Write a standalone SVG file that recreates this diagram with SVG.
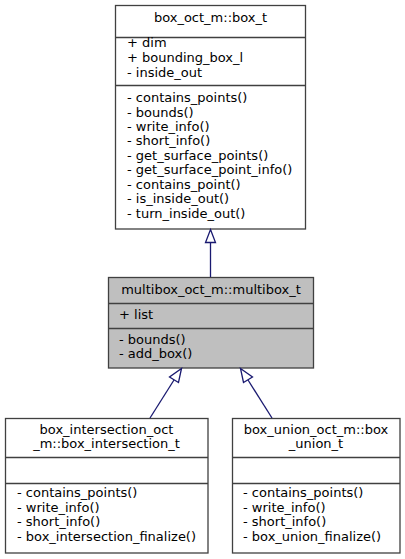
<svg xmlns="http://www.w3.org/2000/svg" width="405" height="559" viewBox="0 0 405 559">
<style>
text{font-family:"DejaVu Sans",sans-serif;font-size:13px;fill:#000}
.c{text-anchor:middle}
.box{fill:#fff;stroke:#404040;stroke-width:1.3}
.gray{fill:#bfbfbf;stroke:#404040;stroke-width:1.3}
.div{stroke:#404040;stroke-width:1.3}
.edge{stroke:#191970;stroke-width:1.3;fill:none}
.head{stroke:#191970;stroke-width:1.3;fill:#fff}
</style>
<rect width="405" height="559" fill="#fff"/>
<g id="box_t">
<rect class="box" x="115.5" y="5.5" width="190" height="223.5"/>
<line class="div" x1="115.5" y1="37.5" x2="305.5" y2="37.5"/>
<line class="div" x1="115.5" y1="85.5" x2="305.5" y2="85.5"/>
<text class="c" x="210.5" y="22">box_oct_m::box_t</text>
<text x="127" y="47">+ dim</text>
<text x="127" y="62">+ bounding_box_l</text>
<text x="127" y="77">- inside_out</text>
<text x="127" y="102">- contains_points()</text>
<text x="127" y="116.5">- bounds()</text>
<text x="127" y="131">- write_info()</text>
<text x="127" y="145">- short_info()</text>
<text x="127" y="159.5">- get_surface_points()</text>
<text x="127" y="174">- get_surface_point_info()</text>
<text x="127" y="188.5">- contains_point()</text>
<text x="127" y="203">- is_inside_out()</text>
<text x="127" y="217.5">- turn_inside_out()</text>
</g>
<g id="multibox_t">
<rect class="gray" x="108.5" y="277.5" width="205" height="90.5"/>
<line class="div" x1="108.5" y1="303.5" x2="313.5" y2="303.5"/>
<line class="div" x1="108.5" y1="328.5" x2="313.5" y2="328.5"/>
<text class="c" x="211" y="294">multibox_oct_m::multibox_t</text>
<text x="119" y="319">+ list</text>
<text x="119" y="344">- bounds()</text>
<text x="119" y="358">- add_box()</text>
</g>
<g id="box_intersection_t">
<rect class="box" x="5.5" y="418.5" width="202.5" height="134.5"/>
<line class="div" x1="5.5" y1="457.5" x2="208" y2="457.5"/>
<line class="div" x1="5.5" y1="483.5" x2="208" y2="483.5"/>
<text class="c" x="106.5" y="434">box_intersection_oct</text>
<text class="c" x="106.5" y="448">_m::box_intersection_t</text>
<text x="17" y="497">- contains_points()</text>
<text x="17" y="511.5">- write_info()</text>
<text x="17" y="526">- short_info()</text>
<text x="17" y="540.5">- box_intersection_finalize()</text>
</g>
<g id="box_union_t">
<rect class="box" x="232.5" y="418.5" width="167.5" height="134.5"/>
<line class="div" x1="232.5" y1="457.5" x2="400" y2="457.5"/>
<line class="div" x1="232.5" y1="483.5" x2="400" y2="483.5"/>
<text class="c" x="316" y="434">box_union_oct_m::box</text>
<text class="c" x="316" y="448">_union_t</text>
<text x="243" y="497">- contains_points()</text>
<text x="243" y="511.5">- write_info()</text>
<text x="243" y="526">- short_info()</text>
<text x="243" y="540.5">- box_union_finalize()</text>
</g>
<g id="connectors">
<line class="edge" x1="210.5" y1="242.5" x2="210.5" y2="277"/>
<polygon class="head" points="210.5,229.5 215.5,242.5 205.5,242.5"/>
<line class="edge" x1="174" y1="380" x2="150" y2="418"/>
<polygon class="head" points="181.5,368.5 178.5,382.5 169.5,377"/>
<line class="edge" x1="248" y1="380" x2="272" y2="418"/>
<polygon class="head" points="240.5,368.5 252.5,377 243.5,382.5"/>
</g>
</svg>
